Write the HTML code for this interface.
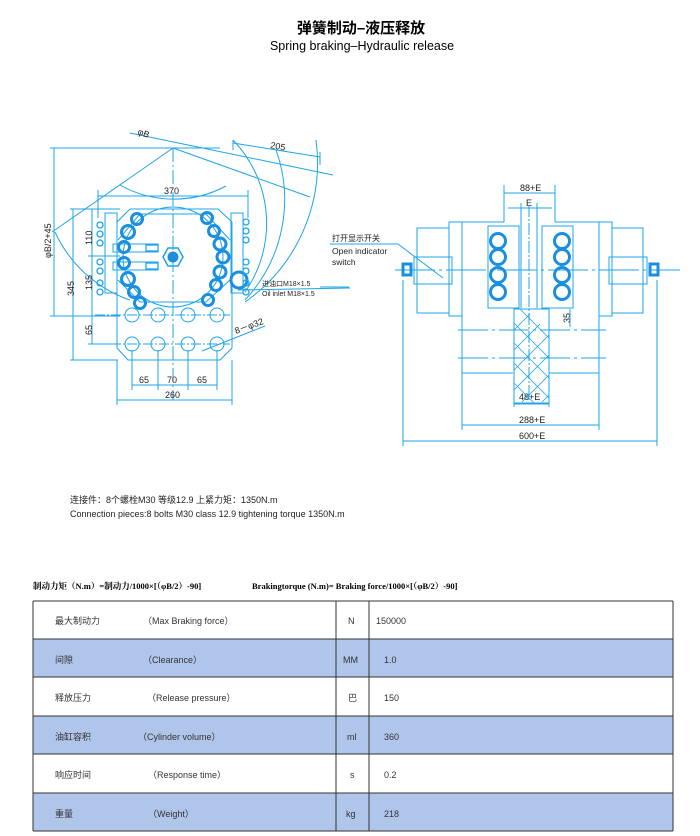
<!DOCTYPE html>
<html><head><meta charset="utf-8"><style>
body{margin:0;width:700px;height:836px;background:#fff;overflow:hidden;font-family:"Liberation Sans","Noto Sans CJK SC",sans-serif}
svg{position:absolute;left:0;top:0}
</style></head><body>
<svg width="700" height="836" viewBox="0 0 700 836" xmlns="http://www.w3.org/2000/svg">
<g font-family="Liberation Sans, Noto Sans CJK SC, sans-serif" fill="#000">
<text x="361" y="33" font-size="15" font-weight="bold" text-anchor="middle">弹簧制动–液压释放</text>
<text x="362" y="50" font-size="12.5" text-anchor="middle">Spring braking–Hydraulic release</text>
</g>
<g stroke="#1ea4e8" stroke-width="1" fill="none">
<line x1="130" y1="133" x2="333" y2="175"/>
<line x1="50" y1="148" x2="220" y2="148"/>
<line x1="173" y1="148" x2="310" y2="197"/>
<line x1="173" y1="148" x2="52" y2="232"/>
<line x1="173" y1="148" x2="173" y2="400" stroke-dasharray="14 3 2 3"/>
<path d="M233 140 A120 120 0 0 1 245 292"/>
<path d="M276 150 A147 147 0 0 1 245 300"/>
<path d="M316 140 A170 170 0 0 1 245 302"/>
<path d="M55 232 A128 128 0 0 0 130 300"/>
<path d="M120 185 A110 110 0 0 0 226 186"/>
<line x1="233" y1="143" x2="320" y2="157"/>
<line x1="233" y1="140" x2="233" y2="150"/>
<line x1="320" y1="152" x2="320" y2="165"/>
<path d="M130 209 L218 209 L232 222 L232 348 L220 360 L128 360 L117 348 L117 222 Z"/>
<rect x="105" y="213" width="12" height="80"/>
<rect x="231" y="213" width="12" height="80"/>
<circle cx="173" cy="257" r="50"/>
<path d="M118 240 L140 214 L206 214 L230 240 M118 280 L140 302 L206 302 L230 280"/>
<rect x="113" y="244" width="45" height="8"/>
<rect x="113" y="262" width="45" height="8"/>
<polygon points="163,257 168,248 178,248 183,257 178,266 168,266" stroke-width="1.5"/>
<circle cx="132" cy="315" r="7"/><circle cx="158" cy="315" r="7"/><circle cx="188" cy="315" r="7"/><circle cx="217" cy="315" r="7"/>
<circle cx="132" cy="344" r="7"/><circle cx="158" cy="344" r="7"/><circle cx="188" cy="344" r="7"/><circle cx="217" cy="344" r="7"/>
<line x1="95" y1="315" x2="230" y2="315" stroke-dasharray="10 2 2 2"/>
<line x1="95" y1="344" x2="230" y2="344" stroke-dasharray="10 2 2 2"/>
<line x1="98" y1="196" x2="248" y2="196"/>
<line x1="98" y1="190" x2="98" y2="218"/><line x1="248" y1="190" x2="248" y2="218"/>
<line x1="54" y1="148" x2="54" y2="316"/>
<line x1="50" y1="316" x2="120" y2="316"/>
<line x1="73" y1="209" x2="73" y2="360"/>
<line x1="70" y1="209" x2="120" y2="209"/>
<line x1="70" y1="360" x2="118" y2="360"/>
<line x1="92" y1="209" x2="92" y2="344"/>
<line x1="88" y1="256" x2="120" y2="256"/>
<line x1="88" y1="344" x2="120" y2="344"/>
<line x1="132" y1="350" x2="132" y2="390"/><line x1="158" y1="350" x2="158" y2="390"/><line x1="188" y1="350" x2="188" y2="390"/><line x1="217" y1="350" x2="217" y2="390"/>
<line x1="132" y1="385" x2="217" y2="385"/>
<line x1="117" y1="360" x2="117" y2="405"/><line x1="232" y1="360" x2="232" y2="405"/>
<line x1="117" y1="400" x2="232" y2="400"/>
<line x1="202" y1="351" x2="265" y2="326"/>
<line x1="238" y1="290" x2="350" y2="288"/>
</g>
<g stroke="#1a8fe0" stroke-width="3" fill="none">
<circle cx="137" cy="219" r="5.5"/><circle cx="128" cy="232" r="6.5"/><circle cx="124" cy="247" r="5.5"/><circle cx="124" cy="263" r="5.5"/><circle cx="128" cy="279" r="6.5"/><circle cx="134" cy="292" r="5.5"/><circle cx="140" cy="303" r="5.5"/>
<circle cx="207" cy="218" r="5.5"/><circle cx="214" cy="231" r="5.5"/><circle cx="220" cy="244" r="6"/><circle cx="223" cy="257" r="6"/><circle cx="220" cy="272" r="6"/><circle cx="216" cy="285" r="5.5"/><circle cx="208" cy="300" r="5.5"/>
<circle cx="239" cy="280" r="8"/>
<circle cx="173" cy="257" r="4" fill="#1a8fe0"/>
</g>
<g stroke="#1ea4e8" stroke-width="1.3" fill="none">
<circle cx="100" cy="225" r="3"/><circle cx="100" cy="234" r="3"/><circle cx="100" cy="243" r="3"/><circle cx="100" cy="262" r="3"/><circle cx="100" cy="271" r="3"/><circle cx="100" cy="283" r="3"/><circle cx="100" cy="292" r="3"/>
<circle cx="246" cy="222" r="3"/><circle cx="246" cy="231" r="3"/><circle cx="246" cy="240" r="3"/><circle cx="246" cy="262" r="3"/><circle cx="246" cy="271" r="3"/><circle cx="246" cy="283" r="3"/><circle cx="246" cy="292" r="3"/>
<rect x="146" y="245" width="12" height="6"/><rect x="146" y="263" width="12" height="6"/>
</g>
<g font-size="9" fill="#222" font-family="Liberation Sans, Noto Sans CJK SC, sans-serif">
<text x="137" y="134" transform="rotate(20 137 134)">φB</text>
<text x="270" y="148" transform="rotate(10 270 148)">205</text>
<text x="164" y="194">370</text>
<text x="51" y="258" transform="rotate(-90 51 258)">φB/2+45</text>
<text x="92" y="245" transform="rotate(-90 92 245)">110</text>
<text x="92" y="290" transform="rotate(-90 92 290)">135</text>
<text x="74" y="296" transform="rotate(-90 74 296)">345</text>
<text x="92" y="335" transform="rotate(-90 92 335)">65</text>
<text x="139" y="383">65</text><text x="167" y="383">70</text><text x="197" y="383">65</text>
<text x="165" y="398">260</text>
<text x="236" y="334" transform="rotate(-20 236 334)">8－φ32</text>
<text x="262" y="286" font-size="7">进油口M18×1.5</text>
<text x="262" y="296" font-size="7">Oil inlet M18×1.5</text>
<text x="332" y="241" font-size="8">打开显示开关</text>
<text x="332" y="254" font-size="8.5">Open indicator</text>
<text x="332" y="265" font-size="8.5">switch</text>
<text x="520" y="191">88+E</text>
<text x="526" y="206">E</text>
<text x="570" y="323" transform="rotate(-90 570 323)">35</text>
<text x="519" y="400">48+E</text>
<text x="519" y="423">288+E</text>
<text x="519" y="439">600+E</text>
</g>
<g stroke="#1ea4e8" stroke-width="1" fill="none">
<line x1="504" y1="185" x2="504" y2="222"/><line x1="555" y1="185" x2="555" y2="222"/>
<line x1="504" y1="193" x2="555" y2="193"/>
<line x1="508" y1="208" x2="552" y2="208"/>
<line x1="521" y1="203" x2="521" y2="308"/><line x1="537" y1="203" x2="537" y2="308"/>
<line x1="529" y1="205" x2="529" y2="400" stroke-dasharray="12 2 2 2"/>
<rect x="488" y="226" width="31" height="82"/>
<rect x="542" y="226" width="31" height="82"/>
<path d="M504 222 L449 222 L449 316 L462 316 M462 222 L462 373 L513 373"/>
<path d="M555 222 L612 222 L612 316 L599 316 M599 222 L599 373 L549 373"/>
<rect x="417" y="228" width="32" height="85"/>
<rect x="612" y="228" width="31" height="85"/>
<rect x="414" y="257" width="38" height="27"/>
<rect x="609" y="257" width="38" height="27"/>
<line x1="395" y1="270" x2="680" y2="270" stroke-dasharray="40 4 3 4"/>
<rect x="514" y="309" width="35" height="94"/>
<line x1="458" y1="330" x2="606" y2="330" stroke-dasharray="30 4 3 4"/>
<line x1="458" y1="358" x2="606" y2="358" stroke-dasharray="30 4 3 4"/>
<line x1="570" y1="309" x2="570" y2="327"/>
<line x1="514" y1="403" x2="514" y2="407"/><line x1="549" y1="403" x2="549" y2="407"/>
<line x1="514" y1="404" x2="549" y2="404"/>
<line x1="462" y1="373" x2="462" y2="430"/><line x1="599" y1="373" x2="599" y2="430"/>
<line x1="462" y1="425" x2="599" y2="425"/>
<line x1="403" y1="280" x2="403" y2="446"/><line x1="657" y1="280" x2="657" y2="446"/>
<line x1="403" y1="441" x2="657" y2="441"/>
<line x1="330" y1="244" x2="398" y2="244"/>
<line x1="398" y1="244" x2="443" y2="278"/>
<line x1="320" y1="287" x2="349" y2="287"/>
</g>
<g stroke="#1ea4e8" stroke-width="0.8" fill="none">
<path d="M514 330 L530 314 M514 350 L540 324 M514 370 L549 335 M514 390 L549 355 M522 402 L549 375 M542 402 L549 395 M520 309 L549 338 M514 323 L549 358 M514 343 L549 378 M514 363 L549 398 M514 383 L534 403"/>
</g>
<g stroke="#1a8fe0" stroke-width="3" fill="none">
<circle cx="498" cy="241" r="7.5"/><circle cx="498" cy="257" r="7.5"/><circle cx="498" cy="275" r="7.5"/><circle cx="498" cy="292" r="7.5"/>
<circle cx="562" cy="241" r="7.5"/><circle cx="562" cy="257" r="7.5"/><circle cx="562" cy="275" r="7.5"/><circle cx="562" cy="292" r="7.5"/>
<rect x="403" y="264" width="8" height="11"/><rect x="650" y="264" width="8" height="11"/>
</g>
<g font-family="Liberation Sans, Noto Sans CJK SC, sans-serif" font-size="9" fill="#222">
<text x="70" y="503">连接件：8个螺栓M30 等级12.9 上紧力矩：1350N.m</text>
<text x="70" y="517">Connection pieces:8 bolts M30 class 12.9 tightening torque 1350N.m</text>
</g>
<g font-family="Liberation Serif, Noto Serif CJK SC, serif" font-size="8.5" font-weight="bold" fill="#000">
<text x="33" y="589">制动力矩（N.m）=制动力/1000×[（φB/2）-90]</text>
<text x="252" y="589">Brakingtorque (N.m)= Braking force/1000×[（φB/2）-90]</text>
</g>
<g>
<rect x="33" y="639" width="640" height="38" fill="#afc5ea"/>
<rect x="33" y="716" width="640" height="38" fill="#afc5ea"/>
<rect x="33" y="793" width="640" height="38" fill="#afc5ea"/>
<g stroke="#333" stroke-width="1" fill="none">
<line x1="33" y1="601" x2="673" y2="601"/>
<line x1="33" y1="639" x2="673" y2="639"/>
<line x1="33" y1="677" x2="673" y2="677"/>
<line x1="33" y1="716" x2="673" y2="716"/>
<line x1="33" y1="754" x2="673" y2="754"/>
<line x1="33" y1="793" x2="673" y2="793"/>
<line x1="33" y1="831" x2="673" y2="831"/>
<line x1="33" y1="601" x2="33" y2="831"/>
<line x1="673" y1="601" x2="673" y2="831"/>
<line x1="336" y1="601" x2="336" y2="831"/>
<line x1="369" y1="601" x2="369" y2="831"/>
</g>
<g font-family="Liberation Sans, Noto Sans CJK SC, sans-serif" font-size="9" fill="#333">
<text x="55" y="624">最大制动力</text><text x="143" y="624">（Max Braking force）</text><text x="348" y="624">N</text><text x="376" y="624">150000</text>
<text x="55" y="663">间隙</text><text x="143" y="663">（Clearance）</text><text x="343" y="663">MM</text><text x="384" y="663">1.0</text>
<text x="55" y="701">释放压力</text><text x="147" y="701">（Release pressure）</text><text x="348" y="701">巴</text><text x="384" y="701">150</text>
<text x="55" y="740">油缸容积</text><text x="138" y="740">（Cylinder volume）</text><text x="347" y="740">ml</text><text x="384" y="740">360</text>
<text x="55" y="778">响应时间</text><text x="148" y="778">（Response time）</text><text x="350" y="778">s</text><text x="384" y="778">0.2</text>
<text x="55" y="817">重量</text><text x="148" y="817">（Weight）</text><text x="346" y="817">kg</text><text x="384" y="817">218</text>
</g>
</g>
</svg>
</body></html>
